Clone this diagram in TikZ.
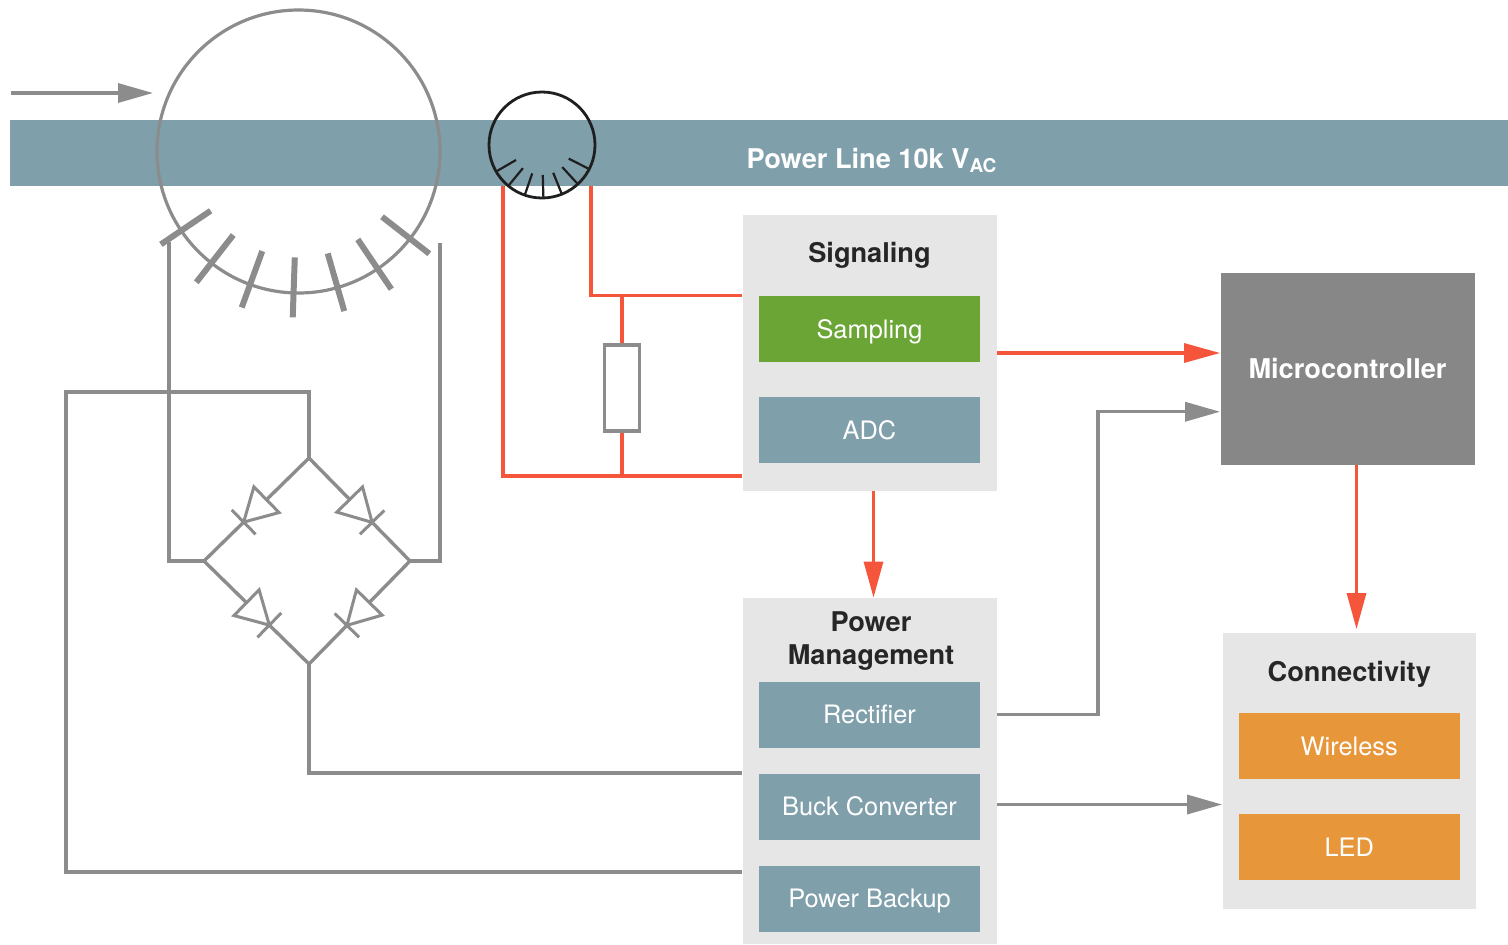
\documentclass[tikz,border=0pt]{standalone}
\usepackage{fontspec}
\setmainfont{TeX Gyre Heros}
\usetikzlibrary{arrows.meta,calc}

\definecolor{lineblue}{RGB}{127,159,170}
\definecolor{sampgreen}{RGB}{106,165,53}
\definecolor{ledorange}{RGB}{232,150,58}
\definecolor{mcugrey}{RGB}{135,135,135}
\definecolor{grpgrey}{RGB}{230,230,230}
\definecolor{wirered}{RGB}{244,85,59}
\definecolor{wiregrey}{RGB}{140,140,140}
\definecolor{titletext}{RGB}{38,38,38}

\begin{document}
\begin{tikzpicture}[x=0.5pt,y=-0.5pt]
    \tikzstyle{grp} = [draw=none,fill=grpgrey,rectangle,minimum width=127pt,inner sep=0pt]
    \tikzstyle{blk} = [draw=none,rectangle,minimum width=110.5pt,minimum height=33pt,inner sep=0pt,
        text=white,text height=9.1pt,text depth=0pt,font=\fontsize{12.7}{15}\selectfont]
    \tikzstyle{ttl} = [draw=none,fill=none,anchor=base,align=center,text=titletext,
        font=\bfseries\fontsize{13.6}{16.2}\selectfont]
    \tikzstyle{gwire} = [draw=wiregrey,line width=1.7pt]
    \tikzstyle{rwire} = [draw=wirered,line width=1.6pt]
    \tikzstyle{garrow} = [gwire,-{Triangle[length=17.5pt,width=9.5pt]}]
    \tikzstyle{rarrow} = [rwire,-{Triangle[length=18pt,width=9.5pt]}]

    \useasboundingbox (0,0) rectangle (1508,944);

    % power line
    \node[rectangle,fill=lineblue,minimum width=749pt,minimum height=33pt,inner sep=0pt] (1) at (759,153) {};
    \node[anchor=base,text=white,font=\bfseries\fontsize{13.6}{16}\selectfont] (2) at (872,168)
        {Power Line 10k V\textsubscript{AC}};

    \coordinate (a1) at (11,93);
    \coordinate (a2) at (153,93);
    \draw[garrow] (a1) -- (a2);

    % current transformers
    \node[circle,draw=wiregrey,line width=1.6pt,minimum size=141.5pt,inner sep=0pt] (3) at (298.5,151.5) {};
    \foreach \a in {214,232,...,322}
        \draw[draw=wiregrey,line width=3pt] ([shift={(\a:53pt)}]3.center) -- ([shift={(\a:83pt)}]3.center);

    \node[circle,draw=black!88,line width=1.4pt,minimum size=53pt,inner sep=0pt] (4) at (542,145) {};
    \foreach \a in {210,230.5,...,333}
        \draw[draw=black!88,line width=1.1pt] ([shift={(\a:15pt)}]4.center) -- ([shift={(\a:26.5pt)}]4.center);

    % blocks
    \node[grp,minimum height=138pt] (5) at (869.5,353) {};
    \node[ttl] (6) at (869.5,262.5) {Signaling};
    \matrix[nodes={blk,fill=sampgreen}, row sep=17.5pt] at (869.5,379.5) {
    \node (7) {Sampling}; \\
    \node[fill=lineblue] (8) {ADC}; \\
    };

    \node[grp,minimum height=173pt] (9) at (869.5,771) {};
    \node[ttl] (10) at (871,664) {Power\\Management};
    \matrix[nodes={blk,fill=lineblue}, row sep=13pt] at (869.5,806.5) {
    \node (11) {Rectifier}; \\
    \node (12) {Buck Converter}; \\
    \node (13) {Power Backup}; \\
    };

    \node[rectangle,fill=mcugrey,minimum width=127pt,minimum height=96.25pt,inner sep=0pt,
        text=white,text height=9.8pt,text depth=0pt,font=\bfseries\fontsize{13.6}{16}\selectfont]
        (14) at (1347.5,368.75) {Microcontroller};

    \node[grp,minimum width=126.75pt,minimum height=138pt] (15) at (1349.25,770.5) {};
    \node[ttl] (16) at (1349.25,681.5) {Connectivity};
    \matrix[nodes={blk,fill=ledorange}, row sep=17.5pt] at (1349.25,796.5) {
    \node (17) {Wireless}; \\
    \node (18) {LED}; \\
    };

    % sensing wires
    \coordinate (k1) at (503,186);
    \coordinate (k2) at (591,186);
    \coordinate (k3) at (503,476);
    \draw[rwire] (k1) -- (k3) -- (k3 -| 5.west);
    \draw[rwire] (k2) |- (7.north -| 5.west);
    \node[rectangle,draw=wiregrey,fill=white,line width=1.6pt,minimum width=17.25pt,minimum height=43pt,inner sep=0pt]
        (19) at (622,388) {};
    \draw[rwire] (19.north) -- (19.north |- 7.north);
    \draw[rwire] (19.south) -- (19.south |- k3);

    % bridge
    \coordinate (w1) at (169,242);
    \coordinate (w2) at (440,243);
    \coordinate (b1) at (309,458);
    \coordinate (b2) at (204,561);
    \coordinate (b3) at (309,664);
    \coordinate (b4) at (410,561);
    \coordinate (l1) at (66,392);
    \coordinate (l2) at (66,872);

    \draw[gwire] (w1) |- (b2);
    \draw[gwire] (w2) |- (b4);
    \draw[gwire] (b1) |- (l1) -- (l2) -- (l2 -| 9.west);
    \draw[gwire] (b3) |- (12.north -| 9.west);
    \draw[gwire,line join=miter] (b1) -- (b2) -- (b3) -- (b4) -- cycle;
    \foreach \p/\q in {b1/b2,b1/b4,b2/b3,b4/b3} {
        \coordinate (m) at ($(\p)!0.5!(\q)$);
        \coordinate (d1) at ($(m)!7pt!(\p)$);
        \coordinate (d2) at ($(m)!9pt!(\q)$);
        \draw[gwire,line width=1.5pt,fill=white] ($(d1)!9pt!90:(\p)$) -- (d2) -- ($(d1)!9pt!-90:(\p)$) -- cycle;
        \draw[gwire,line width=1.5pt] ($(d2)!8.5pt!90:(\q)$) -- ($(d2)!8.5pt!-90:(\q)$);
    }

    % links
    \draw[rarrow] (5.east) -- (5.east -| 14.west);
    \draw[rarrow] ([xshift=2pt]5.south) -- ([xshift=2pt]9.north);
    \draw[rarrow,shorten >=1.5pt] ([xshift=4.5pt]14.south) -- ([xshift=4.5pt]14.south |- 15.north);
    \draw[garrow] (11.east -| 9.east) -- ++(101,0) |- ([yshift=-21.5pt]14.west);
    \draw[garrow] ([yshift=1pt]12.east -| 9.east) -- ([yshift=1pt]12.east -| 15.west);

\end{tikzpicture}
\end{document}
